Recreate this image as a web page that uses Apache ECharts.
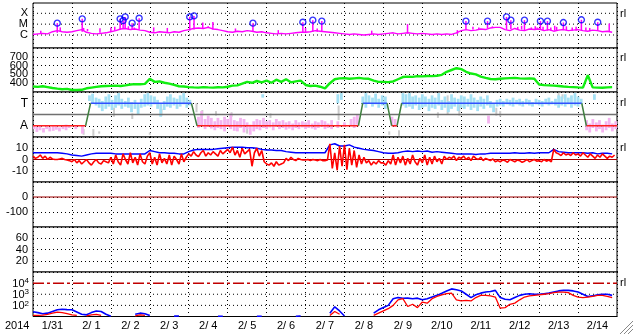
<!DOCTYPE html>
<html><head><meta charset="utf-8">
<script src="https://cdn.jsdelivr.net/npm/echarts@6/dist/echarts.min.js"></script>
<style>html,body{margin:0;padding:0;background:#fff}#c{width:633px;height:334px}</style>
</head><body><div id="c"></div>
<script>
// ---------- data ----------
const dayLabels = ['1/31','2/ 1','2/ 2','2/ 3','2/ 4','2/ 5','2/ 6','2/ 7','2/ 8','2/ 9','2/10','2/11','2/12','2/13','2/14'];
const yearLabel = '2014';
const STEP = 0.125;   // 3-hour samples, in days from 1/31 00:00
const STEP2 = 0.0625; // 1.5-hour samples

const xrsClassLevels = [-6, -5, -4];
const xrsClassLabels = ['C', 'M', 'X'];
const xrsBg = [
 -5.95,-5.9,-5.85,-5.9,-5.7,-5.6,-5.7,-5.75,
 -5.7,-5.6,-5.5,-5.75,-5.85,-5.9,-5.85,-5.8,
 -5.7,-5.6,-5.45,-5.4,-5.5,-5.45,-5.55,-5.6,
 -5.75,-5.8,-5.7,-5.75,-5.8,-5.7,-5.75,-5.6,
 -5.5,-5.4,-5.35,-5.4,-5.3,-5.45,-5.5,-5.6,
 -5.7,-5.75,-5.65,-5.7,-5.6,-5.65,-5.75,-5.7,
 -5.8,-5.85,-5.9,-5.85,-5.9,-5.85,-5.8,-5.75,
 -5.75,-5.7,-5.6,-5.65,-5.7,-5.75,-5.8,-5.85,
 -5.9,-5.95,-5.9,-5.95,-6.0,-5.95,-5.9,-5.95,
 -5.9,-5.85,-5.8,-5.9,-5.85,-5.8,-5.85,-5.9,
 -5.85,-5.9,-5.95,-5.9,-5.95,-5.9,-5.95,-5.8,
 -5.6,-5.5,-5.6,-5.55,-5.45,-5.5,-5.35,-5.3,
 -5.3,-5.5,-5.6,-5.4,-5.55,-5.6,-5.45,-5.5,
 -5.45,-5.6,-5.5,-5.65,-5.55,-5.5,-5.6,-5.55,
 -5.5,-5.6,-5.65,-5.55,-5.6,-5.7,-5.65,-5.75];
const flareT    = [0.623,1.264,2.238,2.315,2.367,2.546,2.726,4.026,4.136,5.649,6.931,7.187,7.418,11.12,11.674,12.162,12.274,12.623,13.033,13.213,13.623,14.085,14.505];
const flarePeak = [-4.91,-4.51,-4.51,-4.67,-4.33,-4.91,-4.45,-4.33,-4.24,-4.91,-4.82,-4.63,-4.72,-4.72,-4.72,-4.33,-4.63,-4.63,-4.72,-4.72,-4.85,-4.6,-4.82];
const flareBase = [-5.8,-5.7,-5.5,-5.45,-5.45,-5.5,-5.5,-5.6,-5.5,-5.7,-5.8,-5.7,-5.65,-5.5,-5.4,-5.5,-5.45,-5.55,-5.5,-5.6,-5.55,-5.55,-5.6];
const minorT    = [0.2,0.7,1.3,1.4,1.72,2.0,2.1,2.45,2.6,3.1,3.45,4.36,4.5,4.62,5.2,6.3,7.0,7.3,8.7,9.62,10.9,11.3,11.45,11.8,11.9,12.45,12.55,12.8,12.9,12.95,13.1,13.3,13.4,13.45,13.7,13.85,13.95,14.2,14.3,14.8];
const minorPeak = [-5.6,-5.3,-5.35,-5.45,-5.37,-5.3,-5.25,-5.2,-5.3,-5.3,-5.35,-4.85,-5.2,-4.8,-5.4,-5.55,-5.35,-5.4,-5.6,-5.0,-5.55,-5.25,-5.3,-5.2,-5.3,-5.25,-5.15,-5.3,-5.2,-5.3,-5.25,-5.3,-5.15,-5.25,-5.2,-5.3,-5.25,-5.3,-5.35,-4.95];
const minorBase = [-5.9,-5.7,-5.6,-5.65,-5.8,-5.7,-5.6,-5.5,-5.5,-5.7,-5.75,-5.45,-5.35,-5.5,-5.7,-5.85,-5.75,-5.7,-5.95,-5.85,-5.9,-5.5,-5.5,-5.35,-5.35,-5.5,-5.5,-5.5,-5.55,-5.55,-5.55,-5.6,-5.6,-5.6,-5.55,-5.6,-5.6,-5.6,-5.65,-5.65];

const vsw = [
 362,358,365,355,345,338,332,335,
 323,322,325,342,350,358,365,368,
 370,372,368,375,385,390,388,392,
 450,415,420,405,395,380,365,362,
 355,352,350,356,352,350,354,352,
 360,372,375,395,415,405,425,410,
 430,405,440,415,445,410,420,430,
 380,368,372,360,342,400,445,455,
 458,450,455,460,452,450,430,415,
 415,412,420,445,470,475,472,480,
 478,482,480,485,495,530,550,570,
 560,530,510,500,475,460,448,445,
 450,455,458,460,455,452,455,450,
 385,378,375,372,368,362,358,355,
 352,350,490,352,350,348,352,355];

// IMF sector: +1 = T (toward), -1 = A (away)
const polT = [0,1.351,1.479,4.069,4.213,8.359,8.469,9.095,9.213,9.351,9.469,14.095,14.213,15];
const polV = [-1,-1,1,1,-1,-1,1,1,-1,-1,1,1,-1,-1];
const lightBlueStreaks = [
 [1.45,1.2,1.7],[1.53,1.0,1.85],[1.62,0.8,1.5],[1.70,0.6,1.4],[1.78,0.3,1.2],[1.87,0.5,1.6],[1.95,0.7,1.8],[2.03,0.4,1.3],
 [2.12,0.6,1.7],[2.20,0.8,1.9],[2.28,0.5,1.4],[2.37,0.7,1.2],[2.45,0.6,1.5],[2.53,0.2,1.1],[2.62,0.5,1.3],[2.70,0.0,1.0],
 [2.78,0.6,1.4],[2.87,0.7,1.8],[2.95,0.8,1.9],[3.03,0.7,1.7],[3.12,0.9,1.6],[3.20,0.5,1.3],[3.28,-0.2,1.0],[3.37,0.4,1.2],
 [3.45,0.7,1.6],[3.53,0.6,1.8],[3.62,0.8,1.5],[3.70,0.5,1.4],[3.78,0.7,1.7],[3.87,0.9,1.9],[3.95,0.6,1.5],[4.03,0.8,1.3],
 [5.9,1.5,1.8],[7.83,1.0,1.8],[7.92,1.3,1.9],
 [8.47,0.9,1.6],[8.55,0.6,1.9],[8.63,1.0,1.7],[8.72,0.7,1.5],[8.80,0.9,1.85],[8.88,0.6,1.4],[8.97,0.8,1.7],[9.05,0.5,1.6],
 [9.50,0.8,1.9],[9.58,0.6,1.8],[9.67,0.7,1.9],[9.75,0.5,1.6],[9.83,0.8,1.7],[9.92,0.4,1.5],[10.00,0.6,1.8],[10.08,0.7,1.6],
 [10.17,0.3,1.4],[10.25,0.6,1.7],[10.33,0.5,1.5],[10.42,0.8,1.9],[10.50,0.4,1.3],[10.58,0.6,1.6],[10.67,0.2,1.2],[10.75,0.5,1.8],
 [10.83,0.7,1.5],[10.92,0.3,1.4],[11.00,0.6,1.7],[11.08,0.5,1.6],[11.17,0.7,1.4],[11.25,0.4,1.8],[11.33,0.6,1.5],[11.42,0.3,1.3],
 [11.50,0.7,1.6],[11.58,0.5,1.4],[11.67,0.8,1.7],[11.75,0.6,1.2],[11.83,0.2,1.0],[11.92,0.7,1.3],[12.00,0.8,1.4],[12.08,0.7,1.2],
 [12.17,0.9,1.4],[12.25,0.8,1.3],[12.33,0.7,1.5],[12.42,0.9,1.3],[12.50,0.8,1.4],[12.58,0.7,1.2],[12.67,0.9,1.4],[12.75,0.8,1.3],
 [12.83,0.7,1.1],[12.92,0.9,1.4],[13.00,0.8,1.3],[13.08,0.7,1.2],[13.17,0.9,1.4],[13.25,0.8,1.5],[13.33,0.9,1.2],[13.42,0.8,1.4],
 [13.50,0.6,1.7],[13.58,0.8,1.6],[13.67,0.7,1.8],[13.75,0.9,1.5],[13.83,0.6,1.7],[13.92,0.8,1.9],[14.00,0.7,1.6],[14.08,0.9,1.4],
 [14.42,1.3,1.8]];
const pinkStreaks = [
 [0.02,-1.3,-1.0],[0.10,-1.55,-1.1],[0.18,-1.4,-1.0],[0.27,-1.6,-1.2],[0.35,-1.3,-0.95],[0.43,-1.5,-1.1],[0.52,-1.45,-1.0],
 [0.60,-1.35,-1.05],[0.68,-1.5,-1.15],[0.77,-1.3,-1.0],[0.85,-1.4,-0.9],[0.93,-1.2,-1.0],[1.10,-1.3,-1.05],[1.27,-1.7,-1.0],
 [4.25,-1.2,-0.2],[4.33,-1.0,0.3],[4.42,-1.3,-0.4],[4.50,-1.1,-0.1],[4.58,-1.25,-0.3],[4.67,-1.4,-0.6],[4.75,-1.2,-0.3],
 [4.83,-1.3,-0.5],[4.92,-1.5,-0.2],[5.00,-1.1,-0.4],[5.08,-1.3,0.1],[5.17,-1.45,-0.5],[5.25,-1.5,-0.6],[5.33,-1.2,-0.3],
 [5.42,-1.6,-0.4],[5.50,-1.3,-0.7],[5.58,-1.8,-0.9],[5.67,-1.5,-0.6],[5.75,-1.3,-0.4],[5.83,-1.4,-0.5],[5.92,-1.2,-0.3],
 [6.00,-1.3,-0.6],[6.08,-1.15,-0.5],[6.17,-1.4,-0.7],[6.25,-1.1,-0.4],[6.33,-1.3,-0.6],[6.42,-1.2,-0.5],[6.50,-1.35,-0.7],
 [6.58,-1.25,-0.6],[6.67,-1.4,-0.8],[6.75,-1.2,-0.5],[6.83,-1.3,-0.7],[6.92,-1.15,-0.6],[7.00,-1.3,-0.7],[7.08,-1.2,-0.5],
 [7.17,-1.25,-0.8],[7.25,-1.35,-0.6],[7.33,-1.2,-0.7],[7.42,-1.1,-0.5],[7.50,-1.3,-0.6],[7.58,-1.2,-0.8],[7.67,-1.3,-0.5],
 [7.83,-1.2,-0.6],[8.00,-1.1,-0.7],[8.17,-1.0,-0.4],[8.25,-1.2,-0.2],[8.33,-0.9,0.0],
 [9.22,-1.0,-0.2],[9.30,-1.1,-0.4],[11.7,-0.8,-0.1],
 [14.22,-1.4,-0.5],[14.30,-1.6,-0.8],[14.38,-1.2,-0.4],[14.47,-1.5,-0.7],[14.55,-1.3,-0.5],[14.63,-1.6,-0.9],[14.72,-1.4,-0.6],
 [14.80,-1.2,-0.3],[14.88,-1.5,-0.8],[14.97,-1.3,-0.6]];
const grayStreaks = [
 [1.30,-1.8,-1.3],[1.55,-1.9,-1.3],[1.70,-1.7,-1.5],[2.08,-0.2,0.6],[2.55,-0.4,0.1],[3.00,-1.8,-1.6],[3.30,-0.1,0.5],
 [4.20,0.2,1.0],[4.35,-0.1,0.4],[4.70,-0.1,0.3],[5.10,-0.2,0.2],[5.50,-1.7,-1.2],[6.10,-0.3,0.1],[7.85,-0.5,0.8],
 [9.15,-1.8,-1.5],[9.40,-1.9,-1.4],[10.4,-0.3,0.2],[10.65,0.0,1.7],[10.95,-0.1,0.9],[11.9,-0.1,0.6],[12.0,-0.2,0.3],
 [13.5,1.5,1.9],[13.6,1.4,1.8]];

// Bz at 1.5-hour samples
const bz = [
 3,1,2,4,1,3,0,2, 0.5,0,0,0.5,1,0,-0.5,-1,
 -2,0,-3,-1,-4,-2,0,-3, -5,-2,0,-3,-4,-1,-2,-3,
 2,-4,4,-2,-5,5,0,-4, 6,-3,2,-5,5,-2,-4,3,
 6,-4,2,-5,5,-3,1,-4, 4,-5,3,0,-4,5,-2,2,
 5,3,7,4,2.5,6,8,3, 6,4,7,5,3,8,5,7,
 9,6,11,4,8,2,10,5, 7,9,-6,6,10,3,8,-2,
 -4,-5,-3,-6,-2,-5,-4,-3, 1,-1,2,0,-1,1,0,-0.5,
 -0.5,0,-1,0,-0.5,-1,0,-1, -1,-0.5,14,-8,6,-9.5,12,-6,
 13,-9,10,-5,8,-7,4,-4, 2,-3,-1,-5,-2,-4,-1,-3,
 -3,-5,-1,-4,4,-5,2,-3, 3,-5,1,-4,4,-2,-5,1,
 -3,4,-5,2,-4,3,-2,1, -4,3,0,2,1,3,-1,2,
 1,3,0,2,-1,3,1,0, 2,-1,1,0,-1,0.5,-2,-1,
 -2,-0.5,-1,-2.5,0,-1,-2,-0.5, -1,-2.5,-1.5,0,-2,-1,0,-1.5,
 -1,-2,0,-1.5,-0.5,-2,9,6, 5,3.5,6,4,5,3.5,6,4,
 5,3,6,4,2,5,3,1, 4,2,5,3,1,3,2,4];
// Bt at 3-hour samples
const bt = [
 6,6,6,6,6,6,5.5,5,
 4,3.5,3,4,5,5.5,5.5,5.5,
 5.5,5,5,5,5,5,5,5,
 8,7,6,6,5.5,5.5,5,5,
 7,8.5,9,9,9,9,9.5,10,
 10.5,11,11,11,10.5,10.5,10,9,
 8.5,8.5,8,8,7,6.5,6,6,
 6,6,6,6,6,13,14,12,
 12,13,11,10,9,8.5,8,7,
 6,5.5,5.5,6,7,7.5,7,7.5,
 7,7.5,6.5,7,6.5,6,5.5,5,
 5,5,5,4.5,5,5,5.5,5.5,
 5.5,5.5,5.5,6,5.5,5.5,6,5.5,
 6,6,6,9,7,6.5,6,6,
 6,6,5.5,6,5,5.5,5.5,5];

const dstLevels = [0, -100];
const kpLevels = [20, 40, 60];

// log10 of electron flux
const fluxBlue = [
 1.42,1.35,1.25,1.3,1.45,1.6,1.65,1.62,
 1.6,1.4,1.2,1.15,1.35,1.5,1.45,1.2,
 1.02,null,null,null,null,1.2,1.3,1.25,
 1.1,null,null,null,null,1.03,1.04,null,
 null,null,null,null,null,null,1.02,1.02,
 null,null,null,null,null,null,1.02,1.02,
 null,null,null,null,null,null,1.02,1.04,
 null,null,null,null,null,1.3,1.87,1.5,
 1.05,null,null,null,null,null,1.3,1.6,
 1.8,2.0,2.6,2.7,2.64,2.65,2.6,2.65,
 2.5,2.6,2.75,2.9,3.09,3.3,3.48,3.4,
 3.3,3.0,2.7,2.95,3.1,3.2,3.25,3.35,
 2.7,2.55,2.5,2.7,2.9,3.0,3.05,3.0,
 3.0,3.05,3.1,3.2,3.3,3.35,3.35,3.3,
 3.2,3.0,2.8,2.85,2.95,3.0,3.0,2.9];
const fluxRed = [
 1.1,1.1,1.12,1.2,1.3,1.4,1.35,1.25,
 1.15,1.1,null,1.05,1.15,1.2,1.1,null,
 null,null,null,null,null,1.05,1.15,1.1,
 null,null,null,null,null,null,null,null,
 null,null,null,null,null,null,null,null,
 null,null,null,null,null,null,null,null,
 null,null,null,null,null,null,null,null,
 null,null,null,null,null,1.1,1.45,1.2,
 null,null,null,null,null,null,1.1,1.3,
 1.5,1.7,2.0,2.5,2.6,1.9,2.1,1.8,
 2.3,2.2,2.6,2.8,2.95,3.05,3.1,2.5,
 2.4,2.45,2.4,2.7,2.9,2.9,2.85,2.75,
 1.75,1.8,2.1,2.2,2.5,2.75,2.85,2.9,
 2.95,3.0,3.05,3.15,3.2,3.2,3.15,2.9,
 2.75,2.7,2.75,2.8,2.9,2.9,2.8,2.7];
const fluxLevels = [2, 3, 4];

// ---------- chart ----------
const FONT = '"Liberation Sans", Arial, sans-serif';
const chart = echarts.init(document.getElementById('c'), null, {renderer: 'canvas'});
const tops = [3, 48, 92, 137, 182, 227, 272];
const hts  = [45, 44, 45, 45, 45, 45, 44.5];
const ts = (arr, st) => arr.map((v, i) => [i * (st || STEP), v]);
const dotted = {color: '#000', type: [1, 3], width: 1};
const lab = {color: '#000', fontSize: 11, fontFamily: FONT, margin: 5};

const grids = tops.map((t, i) => ({left: 33, right: 16, top: t, height: hts[i], show: true,
  borderColor: '#000', borderWidth: 1, backgroundColor: '#fff'}));
const xAxes = tops.map((t, i) => ({type: 'value', gridIndex: i, min: 0, max: 15, interval: 1,
  axisLabel: {show: false}, axisTick: {show: false}, axisLine: {show: false},
  splitLine: {show: true, lineStyle: dotted}}));
xAxes.push({type: 'category', gridIndex: 6, data: dayLabels, boundaryGap: true, position: 'bottom',
  axisLine: {show: false}, axisTick: {show: false}, splitLine: {show: false},
  axisLabel: Object.assign({}, lab, {interval: 0, margin: 4})});

function yAx(i, o) {
  return Object.assign({type: 'value', gridIndex: i, axisLine: {show: false}, axisTick: {show: false}}, o);
}
const yAxes = [
  yAx(0, {min: -7.2, max: -3.05, splitLine: {show: false},
    axisLabel: Object.assign({}, lab, {customValues: xrsClassLevels,
      formatter: v => { const k = xrsClassLevels.indexOf(v); return k >= 0 ? xrsClassLabels[k] : ''; }})}),
  yAx(1, {min: 300, max: 800, interval: 100, splitLine: {show: true, lineStyle: dotted},
    axisLabel: Object.assign({}, lab, {formatter: v => (v > 300 && v < 800) ? String(v) : ''})}),
  yAx(2, {min: -2, max: 2, interval: 1, splitLine: {show: true, lineStyle: dotted},
    axisLabel: Object.assign({}, lab, {fontSize: 12, formatter: v => v === 1 ? 'T' : (v === -1 ? 'A' : '')})}),
  yAx(3, {min: -20, max: 20, interval: 10, splitLine: {show: true, lineStyle: dotted},
    axisLabel: Object.assign({}, lab, {formatter: v => Math.abs(v) < 20 ? String(v) : ''})}),
  yAx(4, {min: -200, max: 100, interval: 100, splitLine: {show: true, lineStyle: dotted},
    axisLabel: Object.assign({}, lab, {formatter: v => dstLevels.indexOf(v) >= 0 ? String(v) : ''})}),
  yAx(5, {min: 0, max: 80, interval: 20, splitLine: {show: true, lineStyle: dotted},
    axisLabel: Object.assign({}, lab, {formatter: v => kpLevels.indexOf(v) >= 0 ? String(v) : ''})}),
  yAx(6, {min: 1, max: 5, interval: 1, splitLine: {show: false},
    axisLabel: Object.assign({}, lab, {margin: 4,
      formatter: v => fluxLevels.indexOf(v) >= 0 ? '{b|10}{s|' + v + '}' : '',
      rich: {b: {fontSize: 11, fontFamily: FONT, color: '#000', lineHeight: 12, verticalAlign: 'bottom'},
             s: {fontSize: 8, fontFamily: FONT, color: '#000', lineHeight: 8, verticalAlign: 'top'}}})})
];

function refLine(gi, value, stroke, width, dash) {
  return {type: 'custom', xAxisIndex: gi, yAxisIndex: gi, silent: true, z: 3,
    data: [[0, value]], encode: {x: 0, y: 1},
    renderItem: (p, api) => {
      const a = api.coord([0, api.value(1)]), b = api.coord([15, api.value(1)]);
      return {type: 'line', shape: {x1: a[0], y1: a[1], x2: b[0], y2: b[1]},
        style: {stroke: stroke, lineWidth: width, lineDash: dash || null}};
    }};
}
function segSeries(gi, data, stroke, width, z) {
  return {type: 'custom', xAxisIndex: gi, yAxisIndex: gi, silent: true, clip: true, z: z || 2,
    data: data, encode: {x: 0, y: [1, 2]},
    renderItem: (p, api) => {
      const a = api.coord([api.value(0), api.value(1)]), b = api.coord([api.value(0), api.value(2)]);
      return {type: 'line', shape: {x1: a[0], y1: a[1], x2: b[0], y2: b[1]},
        style: {stroke: stroke, lineWidth: width}};
    }};
}
function line(gi, data, color, width, z) {
  return {type: 'line', xAxisIndex: gi, yAxisIndex: gi, data: data, symbol: 'none', silent: true,
    lineStyle: {color: color, width: width}, itemStyle: {color: color}, z: z || 4, clip: true, connectNulls: false};
}

// polarity segments
const polRed = [], polBlue = [], polGreen = [];
for (let i = 0; i < polT.length - 1; i++) {
  const a = [polT[i], polV[i]], b = [polT[i + 1], polV[i + 1]];
  const dst = polV[i] !== polV[i + 1] ? polGreen : (polV[i] > 0 ? polBlue : polRed);
  dst.push(a, b, [polT[i + 1], null]);
}

const series = [
  // panel 0: X-ray
  ...xrsClassLevels.map(v => refLine(0, v, '#000', 1, [1, 3])),
  line(0, ts(xrsBg), '#ff00ff', 1.4),
  segSeries(0, flareT.map((t, i) => [t, flareBase[i], flarePeak[i]]), '#ff00ff', 1.5, 4),
  segSeries(0, minorT.map((t, i) => [t, minorBase[i], minorPeak[i]]), '#ff00ff', 1.5, 4),
  {type: 'scatter', xAxisIndex: 0, yAxisIndex: 0, silent: true, z: 6, symbol: 'circle', symbolSize: 6,
    data: flareT.map((t, i) => [t, flarePeak[i]]),
    itemStyle: {color: 'rgba(0,0,0,0)', borderColor: '#0000ff', borderWidth: 1.4}},
  // panel 1: solar wind speed
  line(1, ts(vsw), '#11ee11', 2.4),
  // panel 2: IMF sector
  segSeries(2, grayStreaks, '#cccccc', 2, 2),
  segSeries(2, pinkStreaks, '#f4b4f0', 2.8, 2),
  segSeries(2, lightBlueStreaks, '#a4e0f4', 2.8, 2),
  refLine(2, 0, '#707070', 1.5),
  line(2, polRed, '#ff2020', 1.5, 5),
  line(2, polBlue, '#3050ff', 1.5, 5),
  line(2, polGreen, '#408040', 1.5, 5),
  // panel 3: IMF
  refLine(3, 0, '#a00000', 1.2),
  line(3, ts(bt), '#0000ff', 1.5, 4),
  line(3, ts(bz, STEP2), '#ff0000', 1.6, 5),
  // panel 4: Dst
  refLine(4, 0, '#a00000', 1.2),
  // panel 6: electron flux
  refLine(6, 2, '#000', 1, [1, 3]),
  refLine(6, 3, '#000', 1, [1, 3]),
  refLine(6, 4, '#c00000', 1.5, [11, 3, 3, 3]),
  line(6, ts(fluxBlue), '#0000ff', 1.6, 4),
  line(6, ts(fluxRed), '#ff0000', 1.3, 5)
];

const txt = (x, y, s, size) => ({type: 'text', left: x, top: y, silent: true,
  style: {text: s, fill: '#000', font: (size || 11) + 'px ' + FONT}});
const graphics = [
  txt(5, 320, yearLabel),
  txt(620, 8, 'rl'), txt(620, 52, 'rl'), txt(620, 97, 'rl'), txt(620, 142, 'rl'), txt(620, 277, 'rl'),
  {type: 'line', silent: true, shape: {x1: 620, y1: 334, x2: 633, y2: 321}, style: {stroke: '#888', lineWidth: 1}},
  {type: 'line', silent: true, shape: {x1: 624, y1: 334, x2: 633, y2: 325}, style: {stroke: '#888', lineWidth: 1}},
  {type: 'line', silent: true, shape: {x1: 628, y1: 334, x2: 633, y2: 329}, style: {stroke: '#888', lineWidth: 1}}
];

chart.setOption({
  animation: false,
  backgroundColor: '#fff',
  grid: grids, xAxis: xAxes, yAxis: yAxes, series: series, graphic: graphics
});
</script></body></html>
